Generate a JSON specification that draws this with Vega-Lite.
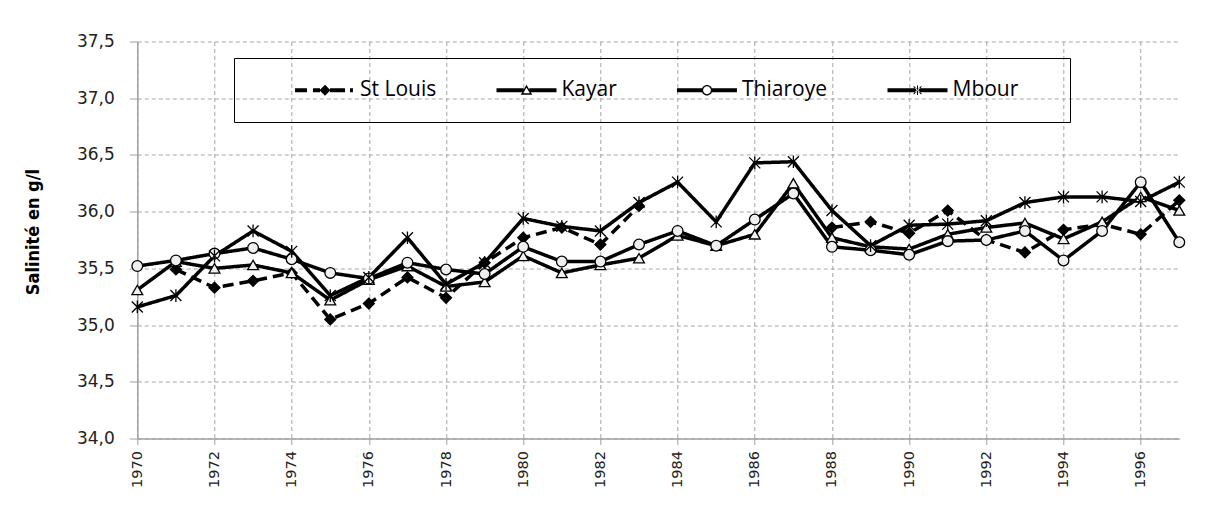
{
  "$schema": "https://vega.github.io/schema/vega-lite/v6.json",
  "width": 1042,
  "height": 397,
  "autosize": "none",
  "padding": {"left": 137.3, "top": 41.5, "right": 28.7, "bottom": 68.5},
  "background": "white",
  "config": {"view": {"stroke": null}},
  "data": {"values": [
    {"year":1970,"station":"St Louis","s":null},{"year":1971,"station":"St Louis","s":35.49},{"year":1972,"station":"St Louis","s":35.33},{"year":1973,"station":"St Louis","s":35.39},{"year":1974,"station":"St Louis","s":35.46},{"year":1975,"station":"St Louis","s":35.05},{"year":1976,"station":"St Louis","s":35.19},{"year":1977,"station":"St Louis","s":35.42},{"year":1978,"station":"St Louis","s":35.24},{"year":1979,"station":"St Louis","s":35.55},{"year":1980,"station":"St Louis","s":35.77},{"year":1981,"station":"St Louis","s":35.86},{"year":1982,"station":"St Louis","s":35.71},{"year":1983,"station":"St Louis","s":36.05},{"year":1984,"station":"St Louis","s":null},{"year":1985,"station":"St Louis","s":null},{"year":1986,"station":"St Louis","s":null},{"year":1987,"station":"St Louis","s":null},{"year":1988,"station":"St Louis","s":35.86},{"year":1989,"station":"St Louis","s":35.91},{"year":1990,"station":"St Louis","s":35.81},{"year":1991,"station":"St Louis","s":36.01},{"year":1992,"station":"St Louis","s":35.75},{"year":1993,"station":"St Louis","s":35.64},{"year":1994,"station":"St Louis","s":35.84},{"year":1995,"station":"St Louis","s":35.89},{"year":1996,"station":"St Louis","s":35.80},{"year":1997,"station":"St Louis","s":36.10},
    {"year":1970,"station":"Kayar","s":35.31},{"year":1971,"station":"Kayar","s":35.56},{"year":1972,"station":"Kayar","s":35.50},{"year":1973,"station":"Kayar","s":35.53},{"year":1974,"station":"Kayar","s":35.46},{"year":1975,"station":"Kayar","s":35.22},{"year":1976,"station":"Kayar","s":35.40},{"year":1977,"station":"Kayar","s":35.52},{"year":1978,"station":"Kayar","s":35.34},{"year":1979,"station":"Kayar","s":35.38},{"year":1980,"station":"Kayar","s":35.61},{"year":1981,"station":"Kayar","s":35.46},{"year":1982,"station":"Kayar","s":35.53},{"year":1983,"station":"Kayar","s":35.59},{"year":1984,"station":"Kayar","s":35.79},{"year":1985,"station":"Kayar","s":35.70},{"year":1986,"station":"Kayar","s":35.80},{"year":1987,"station":"Kayar","s":36.25},{"year":1988,"station":"Kayar","s":35.77},{"year":1989,"station":"Kayar","s":35.69},{"year":1990,"station":"Kayar","s":35.67},{"year":1991,"station":"Kayar","s":35.80},{"year":1992,"station":"Kayar","s":35.86},{"year":1993,"station":"Kayar","s":35.90},{"year":1994,"station":"Kayar","s":35.76},{"year":1995,"station":"Kayar","s":35.91},{"year":1996,"station":"Kayar","s":36.13},{"year":1997,"station":"Kayar","s":36.01},
    {"year":1970,"station":"Thiaroye","s":35.52},{"year":1971,"station":"Thiaroye","s":35.57},{"year":1972,"station":"Thiaroye","s":35.63},{"year":1973,"station":"Thiaroye","s":35.68},{"year":1974,"station":"Thiaroye","s":35.58},{"year":1975,"station":"Thiaroye","s":35.46},{"year":1976,"station":"Thiaroye","s":35.41},{"year":1977,"station":"Thiaroye","s":35.55},{"year":1978,"station":"Thiaroye","s":35.49},{"year":1979,"station":"Thiaroye","s":35.45},{"year":1980,"station":"Thiaroye","s":35.69},{"year":1981,"station":"Thiaroye","s":35.56},{"year":1982,"station":"Thiaroye","s":35.56},{"year":1983,"station":"Thiaroye","s":35.71},{"year":1984,"station":"Thiaroye","s":35.83},{"year":1985,"station":"Thiaroye","s":35.70},{"year":1986,"station":"Thiaroye","s":35.93},{"year":1987,"station":"Thiaroye","s":36.16},{"year":1988,"station":"Thiaroye","s":35.69},{"year":1989,"station":"Thiaroye","s":35.66},{"year":1990,"station":"Thiaroye","s":35.62},{"year":1991,"station":"Thiaroye","s":35.74},{"year":1992,"station":"Thiaroye","s":35.75},{"year":1993,"station":"Thiaroye","s":35.83},{"year":1994,"station":"Thiaroye","s":35.57},{"year":1995,"station":"Thiaroye","s":35.83},{"year":1996,"station":"Thiaroye","s":36.26},{"year":1997,"station":"Thiaroye","s":35.73},
    {"year":1970,"station":"Mbour","s":35.16},{"year":1971,"station":"Mbour","s":35.26},{"year":1972,"station":"Mbour","s":35.61},{"year":1973,"station":"Mbour","s":35.83},{"year":1974,"station":"Mbour","s":35.65},{"year":1975,"station":"Mbour","s":35.26},{"year":1976,"station":"Mbour","s":35.42},{"year":1977,"station":"Mbour","s":35.77},{"year":1978,"station":"Mbour","s":35.36},{"year":1979,"station":"Mbour","s":35.55},{"year":1980,"station":"Mbour","s":35.94},{"year":1981,"station":"Mbour","s":35.87},{"year":1982,"station":"Mbour","s":35.83},{"year":1983,"station":"Mbour","s":36.08},{"year":1984,"station":"Mbour","s":36.26},{"year":1985,"station":"Mbour","s":35.91},{"year":1986,"station":"Mbour","s":36.43},{"year":1987,"station":"Mbour","s":36.44},{"year":1988,"station":"Mbour","s":36.01},{"year":1989,"station":"Mbour","s":35.70},{"year":1990,"station":"Mbour","s":35.88},{"year":1991,"station":"Mbour","s":35.89},{"year":1992,"station":"Mbour","s":35.92},{"year":1993,"station":"Mbour","s":36.08},{"year":1994,"station":"Mbour","s":36.13},{"year":1995,"station":"Mbour","s":36.13},{"year":1996,"station":"Mbour","s":36.09},{"year":1997,"station":"Mbour","s":36.26}
  ]},
  "encoding": {
    "x": {
      "field": "year", "type": "quantitative",
      "scale": {"domain": [1970, 1997], "nice": false, "zero": false},
      "axis": {
        "values": [1970,1972,1974,1976,1978,1980,1982,1984,1986,1988,1990,1992,1994,1996],
        "format": "d", "title": null,
        "labelAngle": 270, "labelAlign": "right", "labelBaseline": "middle",
        "labelFont": "DejaVu Sans", "labelFontSize": 14.5, "labelColor": "#222",
        "labelPadding": 6, "labelOverlap": false, "labelFlush": false,
        "tickSize": 6, "tickColor": "#a0a0a0", "domainColor": "#a0a0a0", "domainWidth": 1.5,
        "grid": true, "gridColor": "#a6a6a6", "gridDash": [4, 3], "gridWidth": 1
      }
    },
    "y": {
      "field": "s", "type": "quantitative",
      "scale": {"domain": [34, 37.5], "nice": false, "zero": false},
      "axis": {
        "values": [34, 34.5, 35, 35.5, 36, 36.5, 37, 37.5],
        "labelExpr": "replace(format(datum.value, '.1f'), '.', ',')",
        "labelFont": "DejaVu Sans", "labelFontSize": 17, "labelColor": "#222",
        "labelPadding": 15, "tickSize": 8, "tickColor": "#a0a0a0",
        "domainColor": "#a0a0a0", "domainWidth": 1.5,
        "grid": true, "gridColor": "#a6a6a6", "gridDash": [4, 3], "gridWidth": 1,
        "title": "Salinité en g/l",
        "titleFont": "'Liberation Sans Narrow', 'DejaVu Sans Condensed', sans-serif",
        "titleFontSize": 18, "titleFontWeight": "bold", "titleColor": "black",
        "titleAngle": 270, "titleAlign": "center", "titleBaseline": "alphabetic",
        "titleX": -98.8, "titleY": 190
      }
    }
  },
  "layer": [
    {
      "mark": {"type": "line", "color": "black", "strokeWidth": 3.5, "invalid": "break-paths-show-domains"},
      "encoding": {
        "strokeDash": {
          "field": "station", "type": "nominal",
          "scale": {"domain": ["St Louis", "Kayar", "Thiaroye", "Mbour"], "range": [[11, 6], [1, 0], [1, 0], [1, 0]]},
          "legend": {
            "title": null, "orient": "none", "legendX": 96.7, "legendY": 16.5,
            "direction": "horizontal", "columns": 4, "gridAlign": "each",
            "strokeColor": "black", "padding": 21.5, "columnPadding": 20.5,
            "symbolSize": 100, "symbolOffset": 59, "labelOffset": 24.5,
            "labelFont": "Open Sans", "labelFontSize": 21, "labelColor": "black",
            "encoding": {
              "symbols": {
                "shape": {"value": {"expr": "datum.value === 'St Louis' ? 'M-6,-0.4H-3.6V0.4H-6ZM-2.4,-0.4H-1V0.4H-2.4ZM0,-1.1L1.1,0L0,1.1L-1.1,0ZM1,-0.4H4V0.4H1ZM5,-0.4H5.6V0.4H5Z' : datum.value === 'Kayar' ? 'M-6,-0.4H-0.55V0.4H-6ZM0.55,-0.4H6V0.4H0.55ZM0,-1.1L1.15,0.9L-1.15,0.9ZM0,-0.54L-0.667,0.62L0.667,0.62Z' : datum.value === 'Thiaroye' ? 'M-6,-0.4H-0.9V0.4H-6ZM0.9,-0.4H6V0.4H0.9ZM1.05,0A1.05,1.05 0 1,1 -1.05,0A1.05,1.05 0 1,1 1.05,0ZM0.78,0A0.78,0.78 0 1,0 -0.78,0A0.78,0.78 0 1,0 0.78,0Z' : 'M-6,-0.4H6V0.4H-6ZM-0.1,-0.95H0.1V0.95H-0.1ZM-0.85,-0.71L0.71,0.85L0.85,0.71L-0.71,-0.85ZM0.71,-0.85L-0.85,0.71L-0.71,0.85L0.85,-0.71ZM26.2,0'"}},
                "fill": {"value": "black"},
                "fillOpacity": {"value": 1},
                "stroke": {"value": "transparent"},
                "strokeWidth": {"value": 0},
                "strokeDash": {"value": [1, 0]},
                "size": {"value": 100},
                "opacity": {"value": 1}
              }
            }
          }
        }
      }
    },
    {
      "mark": {"type": "point", "stroke": "black", "strokeWidth": 1.3, "opacity": 1},
      "encoding": {
        "shape": {
          "field": "station", "type": "nominal",
          "scale": {"domain": ["Mbour", "St Louis", "Kayar", "Thiaroye"], "range": ["M-1,-1L1,1M-1,1L1,-1M0,-1.15L0,1.15", "diamond", "triangle-up", "circle"]},
          "legend": null
        },
        "fill": {
          "field": "station", "type": "nominal",
          "scale": {"domain": ["Mbour", "St Louis", "Kayar", "Thiaroye"], "range": ["transparent", "black", "#efefef", "#efefef"]},
          "legend": null
        },
        "size": {
          "field": "station", "type": "nominal",
          "scale": {"domain": ["Mbour", "St Louis", "Kayar", "Thiaroye"], "range": [121, 115, 160, 121]},
          "legend": null
        }
      }
    }
  ]
}
